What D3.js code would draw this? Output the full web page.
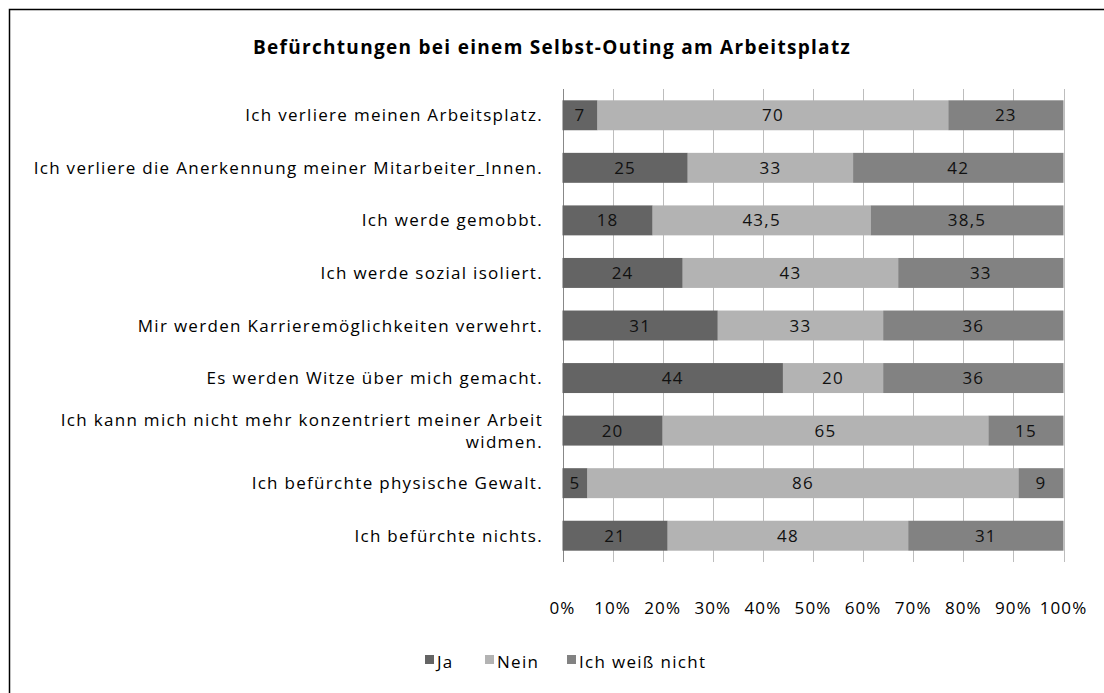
<!DOCTYPE html>
<html>
<head>
<meta charset="utf-8">
<script src="https://cdnjs.cloudflare.com/ajax/libs/d3/7.8.5/d3.min.js"></script>
<style>
  body { margin: 0; background: #fff; }
  text { font-family: "Open Sans", Lato, sans-serif; }
</style>
</head>
<body>
<div id="chart"></div>
<script>
var categories = [
    ['Ich verliere meinen Arbeitsplatz.'],
    ['Ich verliere die Anerkennung meiner Mitarbeiter_Innen.'],
    ['Ich werde gemobbt.'],
    ['Ich werde sozial isoliert.'],
    ['Mir werden Karrieremöglichkeiten verwehrt.'],
    ['Es werden Witze über mich gemacht.'],
    ['Ich kann mich nicht mehr konzentriert meiner Arbeit', 'widmen.'],
    ['Ich befürchte physische Gewalt.'],
    ['Ich befürchte nichts.']
];
var seriesNames = ['Ja', 'Nein', 'Ich weiß nicht'];
var ja = [7, 25, 18, 24, 31, 44, 20, 5, 21];
var nein = [70, 33, 43.5, 43, 33, 20, 65, 86, 48];
var weissNicht = [23, 42, 38.5, 33, 36, 36, 15, 9, 31];
var tickValues = [0, 0.1, 0.2, 0.3, 0.4, 0.5, 0.6, 0.7, 0.8, 0.9, 1];
var colors = ['#646464', '#b3b3b3', '#828282'];

var W = 1104, H = 693;
var svg = d3.select('#chart').append('svg')
    .attr('width', W)
    .attr('height', H);

// outer frame
svg.append('rect')
    .attr('x', 9.5).attr('y', 9.5)
    .attr('width', W + 20).attr('height', H + 20)
    .attr('fill', '#fff').attr('stroke', '#000').attr('stroke-width', 1.5);

svg.append('text')
    .attr('x', 552).attr('y', 54)
    .attr('text-anchor', 'middle')
    .attr('fill', '#000')
    .style('font-size', '19px').style('font-weight', 'bold')
    .style('letter-spacing', '1.3px')
    .text('Befürchtungen bei einem Selbst-Outing am Arbeitsplatz');

var x = d3.scaleLinear().domain([0, 1]).range([562.5, 1063.5]);
var y = d3.scaleBand().domain(d3.range(categories.length))
    .range([89, 562]).paddingInner(0.43).paddingOuter(0.215);

// gridlines
svg.append('g').selectAll('line').data(tickValues).enter().append('line')
    .attr('x1', function(d) { return Math.round(x(d)) + 0.5; })
    .attr('x2', function(d) { return Math.round(x(d)) + 0.5; })
    .attr('y1', 89).attr('y2', 562)
    .attr('stroke', function(d) { return d === 0 ? '#888' : '#bdbdbd'; })
    .attr('stroke-width', 1);

var rows = categories.map(function(c, i) {
    return { ja: ja[i], nein: nein[i], weiss: weissNicht[i] };
});
var keys = ['ja', 'nein', 'weiss'];
var stack = d3.stack().keys(keys)
    .offset(d3.stackOffsetExpand);
var layers = stack(rows);

var layer = svg.append('g').selectAll('g').data(layers).enter().append('g')
    .attr('fill', function(d, i) { return colors[i]; });

layer.selectAll('rect').data(function(d) { return d; }).enter().append('rect')
    .attr('x', function(d) { return x(d[0]); })
    .attr('width', function(d) { return x(d[1]) - x(d[0]); })
    .attr('y', function(d, i) { return y(i); })
    .attr('height', y.bandwidth());

layer.each(function(l) {
    d3.select(this).selectAll('text').data(l).enter().append('text')
        .attr('x', function(d) { return (x(d[0]) + x(d[1])) / 2; })
        .attr('y', function(d, i) { return y(i) + y.bandwidth() / 2 + 6; })
        .attr('text-anchor', 'middle')
        .attr('fill', '#111')
        .style('font-size', '17px')
        .style('letter-spacing', '1.2px')
        .text(function(d) { return String(d.data[l.key]).replace('.', ','); });
});

// category labels (two-line label drawn as separate lines)
var lines = [];
categories.forEach(function(c, i) {
    c.forEach(function(t, j) {
        lines.push({ text: t, row: i, off: (j - (c.length - 1) / 2) * 22 });
    });
});
svg.append('g').selectAll('text').data(lines).enter().append('text')
    .attr('text-anchor', 'end')
    .attr('fill', '#000')
    .style('font-size', '17px')
    .style('letter-spacing', '1.3px')
    .attr('x', 543)
    .attr('y', function(d) { return y(d.row) + y.bandwidth() / 2 + 6 + d.off; })
    .text(function(d) { return d.text; });

// x axis tick labels
svg.append('g').selectAll('text').data(tickValues).enter().append('text')
    .attr('x', function(d) { return x(d); })
    .attr('y', 614)
    .attr('text-anchor', 'middle')
    .attr('fill', '#000')
    .style('font-size', '17px')
    .style('letter-spacing', '1.1px')
    .text(d3.format('.0%'));

// legend
var legendX = [425, 485, 567];
var legend = svg.append('g').selectAll('g').data(seriesNames).enter().append('g')
    .attr('transform', function(d, i) { return 'translate(' + legendX[i] + ',668)'; });
legend.append('rect')
    .attr('x', 0).attr('y', -13)
    .attr('width', 9).attr('height', 9)
    .attr('fill', function(d, i) { return colors[i]; });
legend.append('text')
    .attr('x', 12).attr('y', 0)
    .attr('fill', '#000')
    .style('font-size', '17px')
    .style('letter-spacing', '1.3px')
    .text(function(d) { return d; });
</script>
</body>
</html>
